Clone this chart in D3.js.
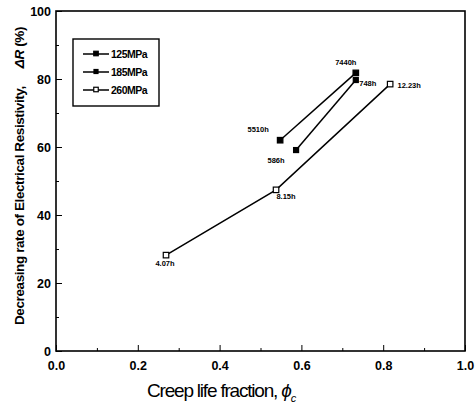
<!DOCTYPE html>
<html>
<head>
<meta charset="utf-8">
<script src="https://cdn.jsdelivr.net/npm/d3@7"></script>
<style>
  body { margin: 0; background: #fff; }
  text { font-family: "Liberation Sans", Arial, sans-serif; font-weight: bold; fill: #000; }
</style>
</head>
<body>
<svg id="root" width="475" height="412"></svg>
<script>
  // series data
  let s125 = [{x: 0.548, y: 62.0, label: "5510h"}, {x: 0.733, y: 81.8, label: "7440h"}];
  let s185 = [{x: 0.587, y: 59.1, label: "586h"}, {x: 0.733, y: 79.7, label: "748h"}];
  let s260 = [{x: 0.269, y: 28.2, label: "4.07h"}, {x: 0.538, y: 47.4, label: "8.15h"}, {x: 0.817, y: 78.5, label: "12.23h"}];
  let seriesNames = ["125MPa", "185MPa", "260MPa"];
  let xTicks = [0, 0.2, 0.4, 0.6, 0.8, 1.0];
  let yTicks = [0, 20, 40, 60, 80, 100];

  let svg = d3.select("#root");
  let x = d3.scaleLinear().domain([0, 1]).range([56, 465]);
  let y = d3.scaleLinear().domain([0, 100]).range([351, 11]);

  // frame
  svg.append("rect")
    .attr("x", x(0)).attr("y", y(100))
    .attr("width", x(1) - x(0)).attr("height", y(0) - y(100))
    .attr("fill", "none").attr("stroke", "#000").attr("stroke-width", 1.6);

  // x axis
  let xAxis = svg.append("g").attr("transform", `translate(0,${y(0)})`)
    .call(d3.axisBottom(x).tickValues(d3.range(0, 1.01, 0.1)).tickSize(-3).tickFormat(""));
  xAxis.selectAll(".tick line").filter((d, i) => i % 2 === 0).attr("y2", -6);
  let xLab = svg.append("g").attr("transform", `translate(0,${y(0)})`)
    .call(d3.axisBottom(x).tickValues(xTicks).tickSize(0).tickPadding(10).tickFormat(d3.format(".1f")));
  xLab.selectAll("text").style("font-size", "12.5px").style("font-family", "Liberation Sans, Arial, sans-serif").style("font-weight", "bold");

  // y axis
  let yAxis = svg.append("g").attr("transform", `translate(${x(0)},0)`)
    .call(d3.axisLeft(y).tickValues(d3.range(0, 101, 10)).tickSize(-3).tickFormat(""));
  yAxis.selectAll(".tick line").filter((d, i) => i % 2 === 0).attr("x2", 6);
  let yLab = svg.append("g").attr("transform", `translate(${x(0)},0)`)
    .call(d3.axisLeft(y).tickValues(yTicks).tickSize(0).tickPadding(5).tickFormat(d3.format("d")));
  yLab.selectAll("text").style("font-size", "12.5px").style("font-family", "Liberation Sans, Arial, sans-serif").style("font-weight", "bold");
  svg.selectAll(".domain").remove();

  // axis titles
  let xt = svg.append("text").attr("x", 147).attr("y", 397)
    .style("font-size", "19px").style("font-weight", "normal").style("letter-spacing", "-1.2px");
  xt.append("tspan").text("Creep life fraction, ");
  xt.append("tspan").style("font-style", "italic").text("ϕ");
  xt.append("tspan").attr("dy", 5).style("font-size", "11px").style("font-style", "italic").text("c");

  let yt = svg.append("text").attr("transform", "translate(24,176) rotate(-90)")
    .attr("text-anchor", "middle").style("font-size", "13.5px").style("letter-spacing", "-0.4px");
  yt.append("tspan").text("Decreasing rate of Electrical Resistivity,");
  yt.append("tspan").attr("dx", 18).style("font-style", "italic").text("ΔR");
  yt.append("tspan").text(" (%)");

  let line = d3.line().x(d => x(d.x)).y(d => y(d.y));
  let series = [
    {data: s125, fill: "#000", size: 5.5},
    {data: s185, fill: "#000", size: 5},
    {data: s260, fill: "#fff", size: 5.5}
  ];

  series.forEach(s => {
    svg.append("path").attr("d", line(s.data)).attr("fill", "none")
      .attr("stroke", "#000").attr("stroke-width", 1.5);
    svg.selectAll(null).data(s.data).enter().append("rect")
      .attr("x", d => x(d.x) - s.size / 2).attr("y", d => y(d.y) - s.size / 2)
      .attr("width", s.size).attr("height", s.size)
      .attr("fill", s.fill).attr("stroke", "#000").attr("stroke-width", 1.2);
  });

  // point labels
  let labelOffsets = {
    "5510h": [-22, -8], "7440h": [-10, -8], "586h": [-20, 13], "748h": [12, 6],
    "4.07h": [-1, 11], "8.15h": [10, 9], "12.23h": [19, 4]
  };
  [].concat(s125, s185, s260).forEach(d => {
    let o = labelOffsets[d.label];
    svg.append("text").attr("x", x(d.x) + o[0]).attr("y", y(d.y) + o[1])
      .attr("text-anchor", "middle").style("font-size", "7.5px").text(d.label);
  });

  // legend
  svg.append("rect").attr("x", 73).attr("y", 39).attr("width", 86).attr("height", 67)
    .attr("fill", "none").attr("stroke", "#000").attr("stroke-width", 1.4);
  seriesNames.forEach((name, i) => {
    let ly = 54 + i * 18;
    let s = series[i];
    svg.append("line").attr("x1", 83).attr("x2", 109).attr("y1", ly).attr("y2", ly)
      .attr("stroke", "#000").attr("stroke-width", 1.5);
    svg.append("rect").attr("x", 96 - s.size / 2 + 0.5).attr("y", ly - s.size / 2)
      .attr("width", s.size - 1).attr("height", s.size - 1)
      .attr("fill", s.fill).attr("stroke", "#000").attr("stroke-width", 1.2);
    svg.append("text").attr("x", 111).attr("y", ly + 4).style("font-size", "10.5px")
      .style("letter-spacing", "-0.5px").text(name);
  });
</script>
</body>
</html>
